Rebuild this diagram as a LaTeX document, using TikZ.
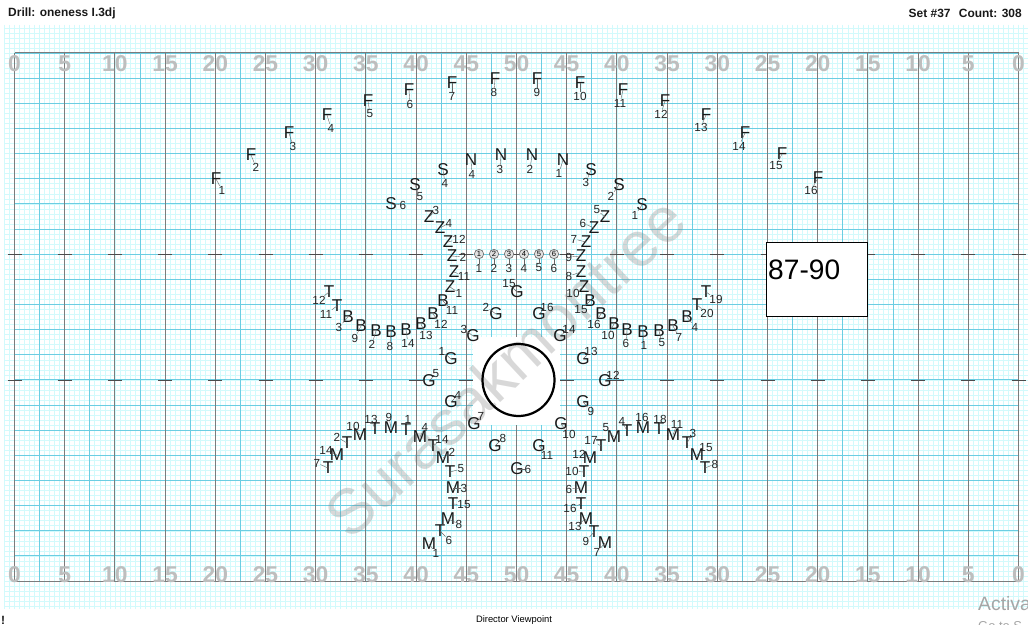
\documentclass[tikz,border=0pt]{standalone}
\usepackage{fontspec}
\setmainfont{Liberation Sans}
\usepackage{xcolor}
\definecolor{minorgrid}{HTML}{D2FAFC}
\definecolor{midgrid}{HTML}{6CCDE2}
\definecolor{yardline}{HTML}{7C7C7C}
\definecolor{yardnum}{HTML}{BEBEBE}
\usetikzlibrary{arrows.meta,positioning}

\begin{document}
\begin{tikzpicture}[
  x=0.03cm, y=-0.03cm,
  minor/.style={draw=minorgrid, line width=0.55pt},
  mid/.style={draw=midgrid, line width=0.7pt},
  yard/.style={draw=yardline, line width=0.85pt},
  hashmark/.style={draw=black!70, line width=0.85pt},
  yardlabel/.style={text=yardnum, font=\fontsize{19.5}{20}\selectfont\bfseries, inner sep=0pt},
  who/.style={font=\fontsize{14.6}{15}\selectfont, text=black!90, inner sep=0pt},
  num/.style={font=\fontsize{10}{10}\selectfont, text=black!85, inner sep=0pt},
  lead/.style={draw=black!60, line width=0.35pt},
  dotmark/.style={circle, draw=black!60, line width=0.5pt, fill=black!12, minimum size=8pt, inner sep=0pt,
                  font=\fontsize{6.5}{7}\selectfont},
  head/.style={font=\fontsize{10.2}{11}\selectfont\bfseries, text=black!90, inner sep=0pt},
  setbox/.style={rectangle, draw=black, line width=0.45pt, fill=white, minimum width=101*0.03cm,
                 minimum height=74*0.03cm, inner sep=0pt}
]
\useasboundingbox (0,0) rectangle (1028,625);
\fill[white] (0,0) rectangle (1028,625);
% grid
\foreach \k in {-2,...,202} \draw[minor] ({14.5+5.02*\k},25) -- ({14.5+5.02*\k},609);
\foreach \k in {-5,...,110} \draw[minor] (4,{53+5.03*\k}) -- (1028,{53+5.03*\k});
\foreach \k in {0,...,40} \draw[mid] ({14.5+25.1*\k},53) -- ({14.5+25.1*\k},581);
\foreach \k in {0,...,21} \draw[mid] (14.5,{53+25.14*\k}) -- (1018.5,{53+25.14*\k});
\foreach \k in {0,...,20} {
  \draw[yard] ({14.5+50.2*\k},53) -- ({14.5+50.2*\k},581);
  \draw[hashmark] ({7.5+50.2*\k},254) -- ({21.5+50.2*\k},254);
  \draw[hashmark] ({7.5+50.2*\k},380) -- ({21.5+50.2*\k},380);
}
\draw[yard] (14.5,53) -- (1018.5,53);
\draw[yard] (14.5,581) -- (1018.5,581);
\fill[white] (473,337) rectangle (560,425);
% yard numbers
\foreach \k/\yd in {0/0,1/5,2/10,3/15,4/20,5/25,6/30,7/35,8/40,9/45,10/50,11/45,12/40,13/35,14/30,15/25,16/20,17/15,18/10,19/5,20/0} {
  \node[yardlabel] (top\k) at ({14.5+50.2*\k},63.5) {\yd};
  \node[yardlabel] (bot\k) at ({14.5+50.2*\k},574.5) {\yd};
}
% watermark
\node[font=\fontsize{54}{54}\selectfont, text=black!50, opacity=0.3, rotate=43, inner sep=0pt] (wm) at (505,367) {Surasakmontree};
\node[circle, draw=black, line width=1.9pt, minimum size=72*0.03cm, inner sep=0pt] (center) at (518.5,380) {};
\node[setbox] (set) at (816.5,279) {};
\node[font=\fontsize{24}{24}\selectfont, inner sep=0pt, anchor=west] (count) at (768,270) {87-90};
% centre dots
\foreach \num/\px in {1/479,2/494,3/509,4/524,5/539,6/554} {
  \node[dotmark] (dot\num) at (\px,254) {\num};
  \node[num] (dot\num n) at (\px,268) {\num};
  \draw[lead] (dot\num) -- (dot\num n);
}
% performers
\foreach \who/\num/\px/\py/\qx/\qy in {
  F/1/216/179/222/190, F/2/251/155/256/167, F/3/289/133/293/146, F/4/327/115/331/128,
  F/5/368/101/370/114, F/6/409/90/410/104, F/7/452/83/452/96, F/8/495/79/494/92,
  F/9/537/79/537/92, F/10/580/83/580/96, F/11/623/90/620/103, F/12/665/101/661/114,
  F/13/706/115/701/127, F/14/745/133/739/146, F/15/782/154/776/166, F/16/818/178/811/190,
  N/1/563/160/559/173, N/2/532/155/530/169, N/3/501/155/500/169, N/4/471/160/472/174,
  S/1/642/205/635/215, S/2/619/185/611/196, S/3/591/170/586/182,
  S/4/443/170/445/183, S/5/415/185/420/197, S/6/391/204/403/205,
  Z/1/450/287/459/293, Z/2/452/256/463/257, Z/3/429/217/436/210, Z/4/440/228/449/223,
  Z/5/605/217/597/210, Z/6/594/228/583/223, Z/7/586/242/574/239, Z/8/581/272/569/276,
  Z/9/581/256/569/257, Z/10/584/287/573/293, Z/11/454/272/464/276, Z/12/448/242/459/239,
  B/1/643/332/644/345, B/2/376/331/372/344, B/3/348/317/339/327, B/4/687/317/695/327,
  B/5/659/331/662/343, B/6/627/330/626/343, B/7/673/326/679/337, B/8/391/332/390/346,
  B/9/361/326/355/338, B/10/614/324/608/335, B/11/443/301/452/310, B/12/433/314/441/324,
  B/13/421/324/426/335, B/14/406/330/408/343, B/15/590/301/581/310, B/16/601/314/594/324,
  G/1/451/359/442/351, G/2/496/314/486/307, G/3/473/336/464/329, G/4/451/402/458/395,
  G/5/429/381/436/374, G/6/517/469/528/469, G/7/474/424/481/416, G/8/495/446/503/438,
  G/9/583/402/591/411, G/10/561/424/569/434, G/11/539/446/547/455, G/12/605/381/613/375,
  G/13/583/359/591/351, G/14/560/336/569/329, G/15/517/292/509/284, G/16/539/314/547/307,
  T/1/406/430/408/419, T/2/347/443/337/437, T/3/687/443/693/433, T/4/627/431/622/421,
  T/5/450/472/461/469, T/6/440/531/449/540, T/7/328/468/317/463, T/8/705/468/715/464,
  T/9/594/532/586/541, T/10/584/472/572/471, T/11/337/306/326/314, T/12/329/292/319/300,
  T/13/375/429/371/419, T/14/433/446/442/439, T/15/453/504/464/505, T/16/581/504/570/508,
  T/17/601/446/591/440, T/18/659/429/660/419, T/19/706/292/716/299, T/20/697/305/707/313,
  M/1/429/544/436/553, M/2/443/458/452/452, M/3/453/488/464/488, M/4/420/437/425/427,
  M/5/614/437/606/428, M/6/581/488/569/489, M/7/605/543/597/552, M/8/448/519/459/524,
  M/9/391/428/389/417, M/10/360/435/353/426, M/11/673/435/677/424, M/12/590/458/579/454,
  M/13/586/519/575/526, M/14/337/455/326/450, M/15/697/455/706/448, M/16/643/428/642/417} {
  \node[who] (\who\num) at (\px,\py) {\who};
  \node[num] (\who\num n) at (\qx,\qy) {\num};
  \draw[lead] (\who\num.center) -- (\who\num n);
}
% page text
\node[head, anchor=west] (drill) at (8,13.5) {Drill: oneness I.3dj};
\node[head, anchor=east] (setno) at (1022,13.5) {Set \#37\hspace{0.7em}Count: 308};
\node[font=\fontsize{8}{8}\selectfont, inner sep=0pt] (view) at (514,620) {Director Viewpoint};
\node[head, anchor=west] (mark) at (1,620) {!};
\node[font=\fontsize{16.5}{17}\selectfont, text=black!35, inner sep=0pt, anchor=base west] (act) at (978,610) {Activa};
\node[font=\fontsize{11}{11}\selectfont, text=black!35, inner sep=0pt, anchor=base west] (goto) at (978,630) {Go to S};
\end{tikzpicture}
\end{document}
